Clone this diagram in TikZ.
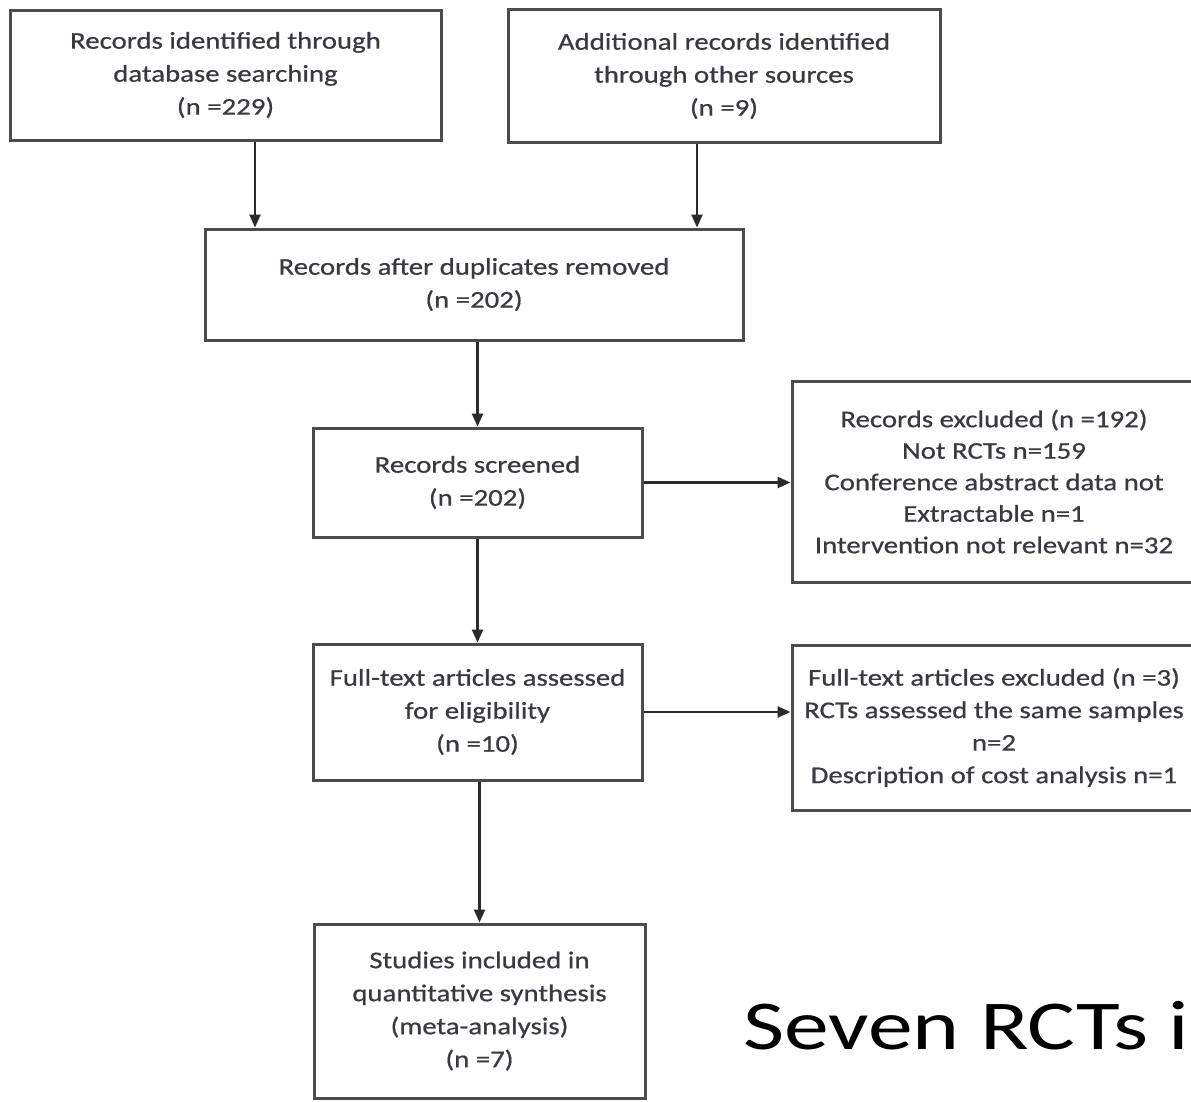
\documentclass[tikz,border=0pt]{standalone}
\usepackage{fontspec}
\setmainfont{Carlito}
\newfontfamily\boxfont[FakeStretch=1.2,FakeBold=0.6]{Carlito}
\newfontfamily\bigfont[FakeStretch=1.28]{Carlito}
\usetikzlibrary{arrows.meta,calc}
\definecolor{boxline}{HTML}{4A4D4C}
\definecolor{txt}{HTML}{3A3840}
\definecolor{arrowc}{HTML}{2A2A2A}
\begin{document}
\begin{tikzpicture}[x=1pt,y=-1pt,
  flowbox/.style={draw=boxline, line width=3pt, fill=white, align=center,
    inner sep=0pt, text=txt, font=\boxfont\fontsize{24}{33}\selectfont},
  arr/.style={draw=arrowc, line width=2.4pt, -{Triangle[length=13pt,width=11pt]}},
  bigtext/.style={anchor=base west, inner sep=0pt, text=black, font=\bigfont\fontsize{70}{84}\selectfont}]
\useasboundingbox (0,0) rectangle (1191,1101);
\fill[white] (0,0) rectangle (1191,1101);

\node[flowbox, minimum width=431pt, minimum height=130pt] (b1) at (225.5,75)
  {Records identified through\\database searching\\(n =229)};
\node[flowbox, minimum width=432pt, minimum height=133pt] (b2) at (724,76)
  {Additional records identified\\through other sources\\(n =9)};
\node[flowbox, minimum width=538pt, minimum height=111pt] (b3) at (474,284.5)
  {Records after duplicates removed\\(n =202)};
\node[flowbox, minimum width=329pt, minimum height=109pt] (b4) at (477.5,482.5)
  {Records screened\\(n =202)};
\node[flowbox, minimum width=404pt, minimum height=201pt, font=\boxfont\fontsize{24}{31.5}\selectfont] (b5) at (994,481.5)
  {Records excluded (n =192)\\Not RCTs n=159\\Conference abstract data not\\Extractable n=1\\Intervention not relevant n=32};
\node[flowbox, minimum width=329pt, minimum height=136pt] (b6) at (477.5,712)
  {Full-text articles assessed\\for eligibility\\(n =10)};
\node[flowbox, minimum width=404pt, minimum height=165pt, font=\boxfont\fontsize{24}{32.5}\selectfont] (b7) at (994,727.5)
  {Full-text articles excluded (n =3)\\RCTs assessed the same samples\\n=2\\Description of cost analysis n=1};
\node[flowbox, minimum width=331pt, minimum height=174pt] (b8) at (479.5,1011)
  {Studies included in\\quantitative synthesis\\(meta-analysis)\\(n =7)};

\draw[arr] ([xshift=29.5pt]b1.south) -- ([xshift=29.5pt]b1.south |- b3.north);
\draw[arr] ([xshift=-27pt]b2.south) -- ([xshift=-27pt]b2.south |- b3.north);
\draw[arr] (b3.south -| b4.north) -- (b4.north);
\draw[arr] (b4.east) -- (b4.east -| b5.west);
\draw[arr] (b4.south) -- (b6.north);
\draw[arr] (b6.east) -- (b6.east -| b7.west);
\draw[arr] (b6.south -| b8.north) -- (b8.north);

\node[bigtext] (seven) at (743,1049) {Seven RCTs i};
\end{tikzpicture}
\end{document}
